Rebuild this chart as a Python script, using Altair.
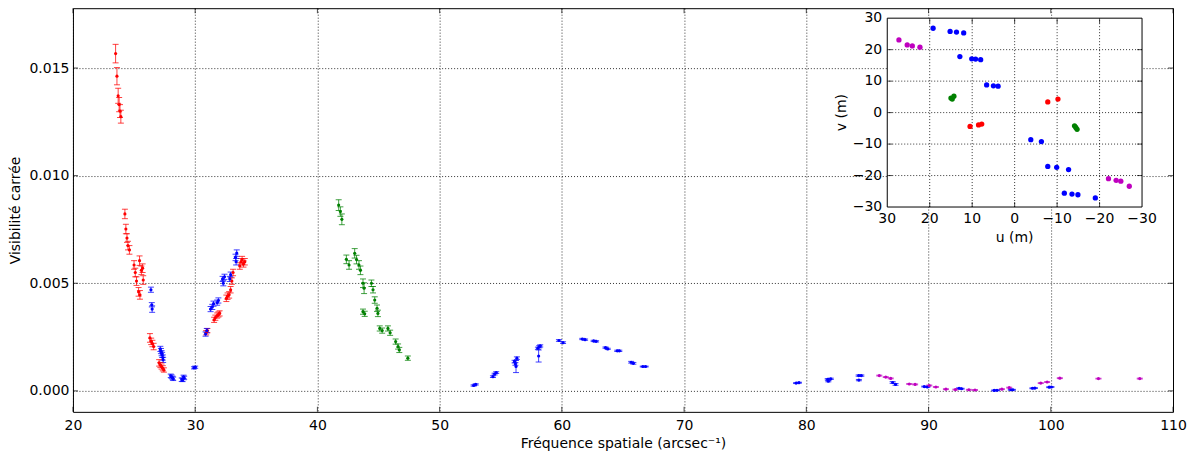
import altair as alt
import pandas as pd

# ---------------- main panel data (spatial frequency, squared visibility, error) -------------
red_x = [23.49, 23.60, 23.70, 23.78, 23.85, 23.92,
         24.25, 24.33, 24.42, 24.50, 24.62,
         25.00, 25.10, 25.20, 25.37, 25.48, 25.45, 25.60, 25.70, 25.75,
         26.30, 26.40, 26.50, 26.60,
         27.05, 27.15, 27.25, 27.35, 27.44,
         30.90, 31.00,
         31.55, 31.65, 31.80, 31.90, 32.00,
         32.55, 32.65, 32.78, 32.90, 33.00, 33.10,
         33.65, 33.75, 33.84, 33.95, 34.06]
red_y = [0.01567, 0.01462, 0.01371, 0.01330, 0.01300, 0.01274,
         0.00822, 0.00752, 0.00710, 0.00675, 0.00655,
         0.00585, 0.00550, 0.00510, 0.00460, 0.00446, 0.00605, 0.00560, 0.00570, 0.00515,
         0.00246, 0.00230, 0.00220, 0.00206,
         0.00130, 0.00120, 0.00113, 0.00105, 0.00097,
         0.00270, 0.00280,
         0.00330, 0.00340, 0.00350, 0.00355, 0.00360,
         0.00430, 0.00440, 0.00446, 0.00470, 0.00510, 0.00550,
         0.00580, 0.00600, 0.00610, 0.00590, 0.00600]
red_e = [0.00043, 0.00040, 0.00035, 0.00033, 0.00030, 0.00030,
         0.00022, 0.00022, 0.00020, 0.00020, 0.00020,
         0.00020, 0.00020, 0.00020, 0.00020, 0.00020, 0.00022, 0.00020, 0.00020, 0.00020,
         0.00020, 0.00015, 0.00015, 0.00015,
         0.00015, 0.00012, 0.00012, 0.00012, 0.00010,
         0.00010, 0.00010,
         0.00012, 0.00012, 0.00012, 0.00012, 0.00012,
         0.00015, 0.00015, 0.00015, 0.00015, 0.00015, 0.00015,
         0.00015, 0.00015, 0.00015, 0.00015, 0.00015]

blue_x = [26.38, 26.45, 26.48,
          27.15, 27.20, 27.25, 27.30, 27.35, 27.38,
          28.00, 28.07, 28.15, 28.20,
          28.90, 28.97, 29.05, 29.10,
          29.90, 30.00,
          30.85, 30.95,
          31.26, 31.40, 31.50, 31.80, 31.90,
          32.24, 32.30, 32.40, 32.83, 32.90,
          33.30, 33.35, 33.40,
          52.78, 52.95,
          54.36, 54.50, 54.63,
          56.13, 56.20, 56.32, 56.25,
          58.04, 58.15, 58.23, 58.10,
          59.76, 60.10,
          61.67, 61.90, 62.60, 62.80,
          63.57, 63.75, 64.53, 64.70,
          65.67, 65.85, 66.62, 66.85,
          79.16, 79.40,
          81.75, 82.00, 81.80,
          84.28, 84.50, 84.30,
          87.06, 87.30,
          89.65, 89.90,
          92.50, 92.70,
          95.37, 95.60,
          96.73, 96.90,
          98.50, 98.70,
          99.87, 100.05]
blue_y = [0.00470, 0.00400, 0.00380,
          0.00195, 0.00185, 0.00175, 0.00167, 0.00155, 0.00144,
          0.00070, 0.00066, 0.00060, 0.00056,
          0.00052, 0.00051, 0.00065, 0.00060,
          0.00107, 0.00110,
          0.00264, 0.00280,
          0.00380, 0.00390, 0.00405, 0.00410, 0.00420,
          0.00520, 0.00500, 0.00530, 0.00520, 0.00540,
          0.00620, 0.00600, 0.00640,
          0.00025, 0.00030,
          0.00066, 0.00078, 0.00085,
          0.00136, 0.00125, 0.00152, 0.00113,
          0.00198, 0.00205, 0.00209, 0.00162,
          0.00234, 0.00224,
          0.00241, 0.00238, 0.00232, 0.00230,
          0.00201, 0.00195, 0.00186, 0.00186,
          0.00133, 0.00128, 0.00113, 0.00113,
          0.00036, 0.00038,
          0.00054, 0.00056, 0.00045,
          0.00071, 0.00071, 0.00050,
          0.00039, 0.00030,
          0.00020, 0.00018,
          0.00012, 0.00010,
          0.00002, 0.00003,
          0.00005, 0.00005,
          0.00012, 0.00013,
          0.00017, 0.00018]
blue_e = [0.00012, 0.00010, 0.00015,
          0.00012, 0.00012, 0.00012, 0.00012, 0.00012, 0.00012,
          0.00008, 0.00008, 0.00008, 0.00008,
          0.00008, 0.00008, 0.00008, 0.00008,
          0.00005, 0.00005,
          0.00010, 0.00010,
          0.00012, 0.00012, 0.00012, 0.00012, 0.00012,
          0.00012, 0.00012, 0.00012, 0.00012, 0.00012,
          0.00015, 0.00015, 0.00015,
          0.00003, 0.00003,
          0.00004, 0.00004, 0.00004,
          0.00006, 0.00006, 0.00006, 0.00028,
          0.00005, 0.00005, 0.00005, 0.00028,
          0.00004, 0.00004,
          0.00003, 0.00003, 0.00003, 0.00003,
          0.00003, 0.00003, 0.00003, 0.00003,
          0.00004, 0.00004, 0.00002, 0.00002,
          0.00002, 0.00002,
          0.00003, 0.00003, 0.00003,
          0.00003, 0.00003, 0.00003,
          0.00004, 0.00004,
          0.00002, 0.00002,
          0.00002, 0.00002,
          0.00002, 0.00002,
          0.00002, 0.00002,
          0.00002, 0.00002,
          0.00002, 0.00002]

green_x = [41.74, 41.88, 42.00,
           42.37, 42.59, 43.05, 43.20, 43.40, 43.52,
           43.73, 43.82, 43.73, 43.87,
           44.42, 44.55, 44.69, 44.88, 44.95,
           45.10, 45.30, 45.77, 45.95,
           46.40, 46.60, 46.70, 47.40]
green_y = [0.00863, 0.00833, 0.00797,
           0.00611, 0.00585, 0.00639, 0.00610, 0.00585, 0.00560,
           0.00500, 0.00477, 0.00368, 0.00358,
           0.00500, 0.00470, 0.00422, 0.00384, 0.00360,
           0.00290, 0.00280, 0.00290, 0.00270,
           0.00229, 0.00206, 0.00190, 0.00152]
green_e = [0.00025, 0.00022, 0.00025,
           0.00020, 0.00020, 0.00022, 0.00020, 0.00020, 0.00020,
           0.00020, 0.00025, 0.00012, 0.00012,
           0.00015, 0.00015, 0.00015, 0.00015, 0.00015,
           0.00012, 0.00012, 0.00012, 0.00012,
           0.00012, 0.00012, 0.00012, 0.00010]

mag_x = [85.97, 86.50, 86.90,
         88.42, 88.90, 90.06, 90.60,
         91.42, 92.20, 93.30, 93.80,
         96.00, 96.60,
         99.18, 99.70,
         100.74, 103.90, 107.28]
mag_y = [0.00071, 0.00064, 0.00058,
         0.00032, 0.00030, 0.00025, 0.00018,
         0.00008, 0.00006, 0.00005, 0.00004,
         0.00008, 0.00015,
         0.00036, 0.00041,
         0.00059, 0.00057, 0.00057]
mag_e = [0.00002] * len(mag_x)

# ---------------- inset data (uv coverage, metres) ----------------
in_red_u = [10.5, 8.5, 7.75, -7.8, -10.2]
in_red_v = [-4.4, -3.9, -3.65, 3.4, 4.3]
in_green_u = [14.7, 14.3, 15.0, -14.4, -14.7, -14.1]
in_green_v = [4.3, 5.2, 4.6, -4.7, -5.3, -4.2]
in_blue_u = [19.2, 15.2, 13.7, 12.0, 12.9, 10.1, 9.2, 8.0, 6.6, 5.0, 3.9,
             -3.8, -6.3, -7.8, -9.9, -12.7, -11.7, -13.5, -14.9, -19.0]
in_blue_v = [26.8, 25.8, 25.6, 25.3, 17.8, 17.1, 17.0, 16.8, 8.8, 8.5, 8.4,
             -8.6, -9.2, -17.1, -17.4, -18.1, -25.6, -25.9, -26.1, -27.1]
in_mag_u = [27.25, 25.3, 24.1, 22.3, -22.1, -23.9, -25.0, -27.0]
in_mag_v = [23.1, 21.5, 21.2, 20.8, -21.0, -21.5, -21.8, -23.4]

x_ticks = [20, 30, 40, 50, 60, 70, 80, 90, 100, 110]
y_ticks = [0.0, 0.005, 0.010, 0.015]
inset_ticks = [30, 20, 10, 0, -10, -20, -30]
inset_tick_labels = ["30", "20", "10", "0", "\u221210", "\u221220", "\u221230"]
inset_grid = [20, 10, 0, -10, -20]

series_names = ["r", "b", "g", "m"]
series_colors = ["#ff0000", "#0000ff", "#008000", "#bf00bf"]

FONT = "DejaVu Sans"
X_MIN, X_MAX = 20, 110
Y_MIN, Y_MAX = -0.000975, 0.01778

# ---------------- build tables ----------------
def table(xs, ys, es, name):
    return pd.DataFrame({"f": xs, "v2": ys, "lo": [a - b for a, b in zip(ys, es)],
                         "hi": [a + b for a, b in zip(ys, es)], "s": name})

main_df = pd.concat([table(red_x, red_y, red_e, "r"), table(blue_x, blue_y, blue_e, "b"),
                     table(green_x, green_y, green_e, "g"), table(mag_x, mag_y, mag_e, "m")],
                    ignore_index=True)

inset_df = pd.concat([
    pd.DataFrame({"u": in_mag_u, "v": in_mag_v, "s": "m"}),
    pd.DataFrame({"u": in_blue_u, "v": in_blue_v, "s": "b"}),
    pd.DataFrame({"u": in_green_u, "v": in_green_v, "s": "g"}),
    pd.DataFrame({"u": in_red_u, "v": in_red_v, "s": "r"}),
], ignore_index=True)

color = alt.Color("s:N", scale=alt.Scale(domain=series_names, range=series_colors), legend=None)

xs = alt.Scale(domain=[X_MIN, X_MAX], nice=False, zero=False)
ys = alt.Scale(domain=[Y_MIN, Y_MAX], nice=False, zero=False)

X = alt.X("f:Q", scale=xs, axis=alt.Axis(values=x_ticks, format="d", labelPadding=7, labelFlush=False,
                                         title="Fréquence spatiale (arcsec\u207b\u00b9)", titlePadding=4))
Y = alt.Y("v2:Q", scale=ys, axis=alt.Axis(values=y_ticks, format=".3f", labelPadding=4, labelFlush=False,
                                          title="Visibilité carrée", titlePadding=6))

base = alt.Chart(main_df)
bars = base.mark_rule(strokeWidth=1, opacity=0.75).encode(x=X, y=alt.Y("lo:Q", scale=ys), y2="hi:Q", color=color)
cap_lo = base.mark_tick(orient="horizontal", size=6, thickness=1, opacity=0.75).encode(
    x=alt.X("f:Q", scale=xs), y=alt.Y("lo:Q", scale=ys), color=color)
cap_hi = base.mark_tick(orient="horizontal", size=6, thickness=1, opacity=0.75).encode(
    x=alt.X("f:Q", scale=xs), y=alt.Y("hi:Q", scale=ys), color=color)
pts = base.mark_circle(size=10, opacity=1).encode(x=X, y=Y, color=color)

# inward tick marks on the four sides of the main frame
xt_df = pd.DataFrame({"t": x_ticks, "bot": Y_MIN, "top": Y_MAX})
yt_df = pd.DataFrame({"t": y_ticks, "left": X_MIN, "right": X_MAX})
tk_b = alt.Chart(xt_df).mark_tick(orient="vertical", size=5, thickness=1, color="black", yOffset=-2.5).encode(
    x=alt.X("t:Q", scale=xs), y=alt.Y("bot:Q", scale=ys))
tk_t = alt.Chart(xt_df).mark_tick(orient="vertical", size=5, thickness=1, color="black", yOffset=2.5).encode(
    x=alt.X("t:Q", scale=xs), y=alt.Y("top:Q", scale=ys))
tk_l = alt.Chart(yt_df).mark_tick(orient="horizontal", size=5, thickness=1, color="black", xOffset=2.5).encode(
    y=alt.Y("t:Q", scale=ys), x=alt.X("left:Q", scale=xs))
tk_r = alt.Chart(yt_df).mark_tick(orient="horizontal", size=5, thickness=1, color="black", xOffset=-2.5).encode(
    y=alt.Y("t:Q", scale=ys), x=alt.X("right:Q", scale=xs))

main = alt.layer(bars, cap_lo, cap_hi, pts, tk_b, tk_t, tk_l, tk_r)

# ---------------- inset ----------------
su = alt.Scale(domain=[30, -30], range=[815, 1070], nice=False, zero=False)
sv = alt.Scale(domain=[-30, 30], range=[199, 10], nice=False, zero=False)

frame_df = pd.DataFrame({"u0": [30], "u1": [-30], "v0": [-30], "v1": [30]})
bg = alt.Chart(frame_df).mark_rect(fill="white").encode(
    x=alt.X("u0:Q", scale=su, axis=None), x2="u1:Q",
    y=alt.Y("v0:Q", scale=sv, axis=None), y2="v1:Q")
frame = alt.Chart(frame_df).mark_rect(fill=None, stroke="black", strokeWidth=1).encode(
    x=alt.X("u0:Q", scale=su, axis=None), x2="u1:Q",
    y=alt.Y("v0:Q", scale=sv, axis=None), y2="v1:Q")

grid_df = pd.DataFrame({"g": inset_grid, "lo": -30, "hi": 30})
vgrid = alt.Chart(grid_df).mark_rule(color="black", strokeWidth=1, strokeDash=[1, 2], opacity=0.8).encode(
    x=alt.X("g:Q", scale=su, axis=None), y=alt.Y("lo:Q", scale=sv, axis=None), y2="hi:Q")
hgrid = alt.Chart(grid_df).mark_rule(color="black", strokeWidth=1, strokeDash=[1, 2], opacity=0.8).encode(
    y=alt.Y("g:Q", scale=sv, axis=None), x=alt.X("lo:Q", scale=su, axis=None), x2="hi:Q")

it_df = pd.DataFrame({"t": inset_grid, "lo": -30, "hi": 30})
itk_b = alt.Chart(it_df).mark_tick(orient="vertical", size=5, thickness=1, color="black", yOffset=-2.5).encode(
    x=alt.X("t:Q", scale=su, axis=None), y=alt.Y("lo:Q", scale=sv, axis=None))
itk_t = alt.Chart(it_df).mark_tick(orient="vertical", size=5, thickness=1, color="black", yOffset=2.5).encode(
    x=alt.X("t:Q", scale=su, axis=None), y=alt.Y("hi:Q", scale=sv, axis=None))
itk_l = alt.Chart(it_df).mark_tick(orient="horizontal", size=5, thickness=1, color="black", xOffset=2.5).encode(
    y=alt.Y("t:Q", scale=sv, axis=None), x=alt.X("hi:Q", scale=su, axis=None))
itk_r = alt.Chart(it_df).mark_tick(orient="horizontal", size=5, thickness=1, color="black", xOffset=-2.5).encode(
    y=alt.Y("t:Q", scale=sv, axis=None), x=alt.X("lo:Q", scale=su, axis=None))

ipts = alt.Chart(inset_df).mark_circle(size=28, opacity=1).encode(
    x=alt.X("u:Q", scale=su, axis=None), y=alt.Y("v:Q", scale=sv, axis=None), color=color)

lab_df = pd.DataFrame({"t": inset_ticks, "lab": inset_tick_labels, "edge_v": -30, "edge_u": 30})
ulabels = alt.Chart(lab_df).mark_text(font=FONT, fontSize=14, baseline="top", dy=5, color="black").encode(
    x=alt.X("t:Q", scale=su, axis=None), y=alt.Y("edge_v:Q", scale=sv, axis=None), text="lab:N")
vlabels = alt.Chart(lab_df).mark_text(font=FONT, fontSize=14, align="right", baseline="middle", dx=-5,
                                      color="black").encode(
    y=alt.Y("t:Q", scale=sv, axis=None), x=alt.X("edge_u:Q", scale=su, axis=None), text="lab:N")

title_df = pd.DataFrame({"mid": [0], "edge_v": [-30], "edge_u": [30], "ut": ["u (m)"], "vt": ["v (m)"]})
utitle = alt.Chart(title_df).mark_text(font=FONT, fontSize=14, baseline="top", dy=24, color="black").encode(
    x=alt.X("mid:Q", scale=su, axis=None), y=alt.Y("edge_v:Q", scale=sv, axis=None), text="ut:N")
vtitle = alt.Chart(title_df).mark_text(font=FONT, fontSize=14, angle=270, baseline="middle", align="center",
                                       dy=-45, color="black").encode(
    x=alt.X("edge_u:Q", scale=su, axis=None), y=alt.Y("mid:Q", scale=sv, axis=None), text="vt:N")

inset = alt.layer(bg, vgrid, hgrid, itk_b, itk_t, itk_l, itk_r, frame, ipts, ulabels, vlabels, utitle, vtitle)

chart = alt.layer(main, inset).resolve_scale(x="independent", y="independent").properties(
    width=1101, height=404,
    background="white",
    autosize=alt.AutoSizeParams(type="none"),
    padding={"left": 65, "top": 0, "right": 14, "bottom": 44},
).configure_view(stroke="black", strokeWidth=1).configure_axis(
    domain=False, ticks=False, grid=True, gridColor="black", gridDash=[1, 2], gridOpacity=0.8,
    labelFont=FONT, labelFontSize=14, labelColor="black",
    titleFont=FONT, titleFontSize=14, titleFontWeight="normal", titleColor="black",
)

chart.save("out.html", embed_options={"renderer": "svg", "actions": False})
